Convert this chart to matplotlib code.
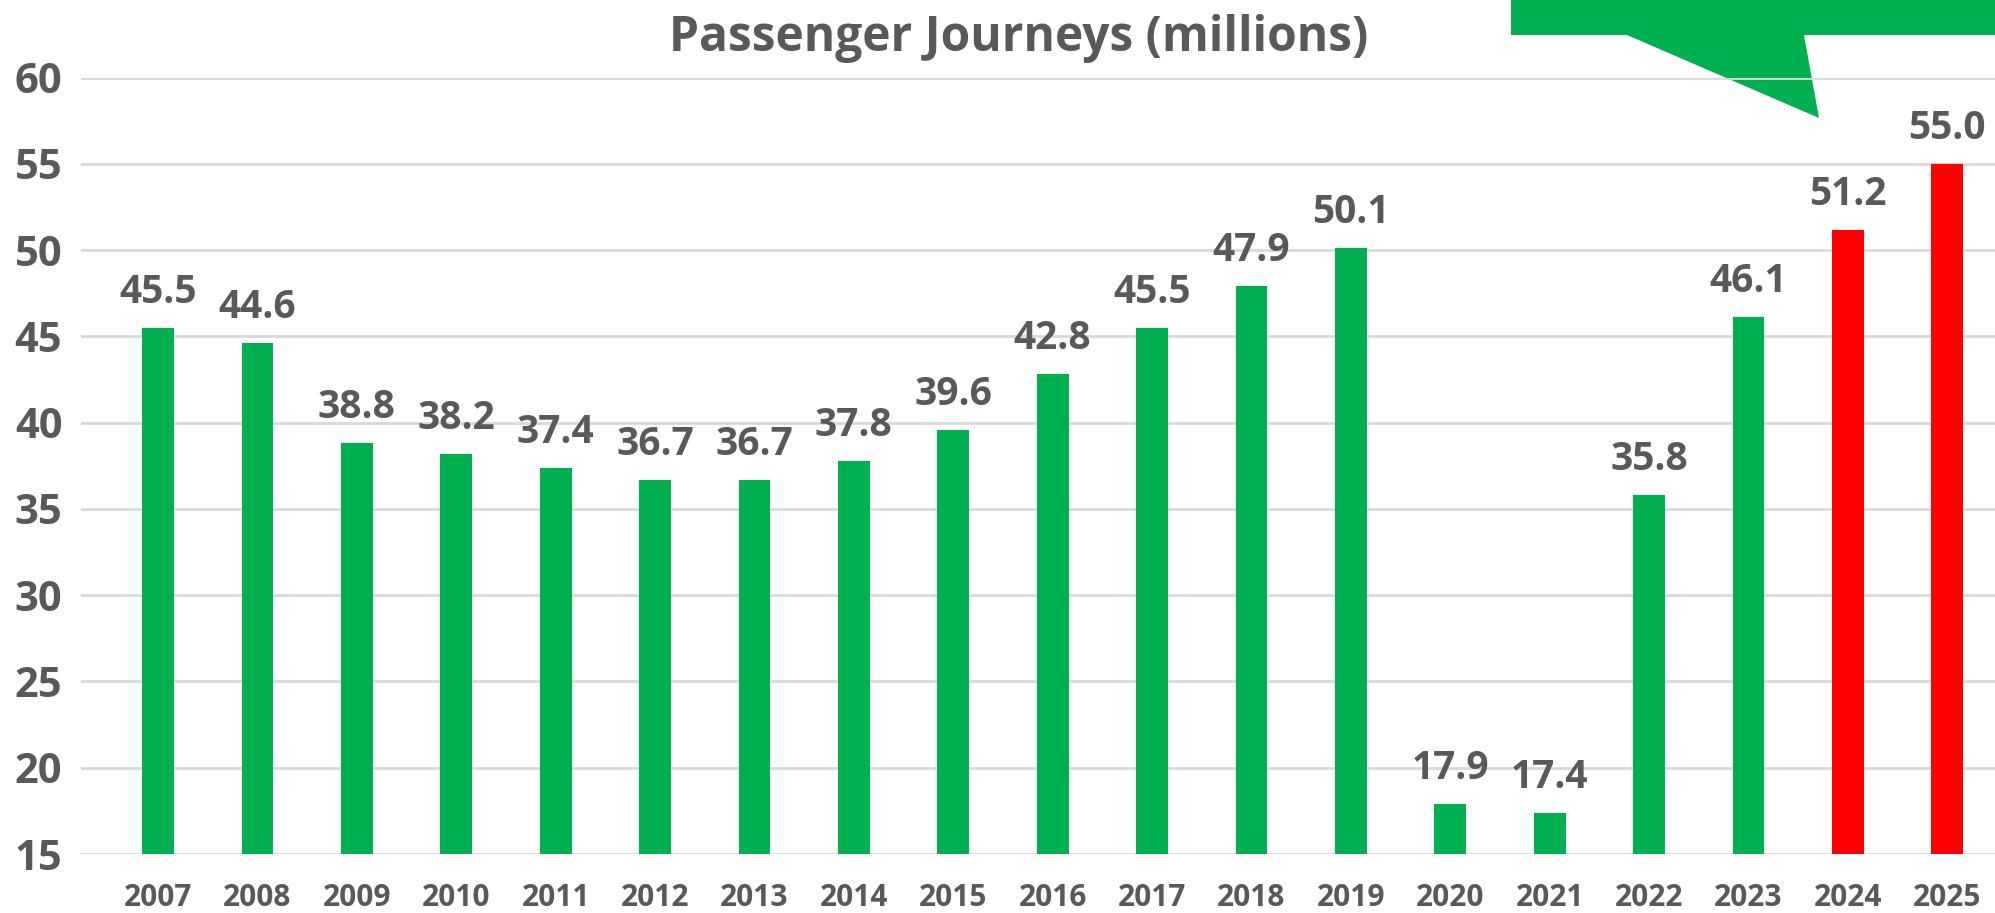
import matplotlib
matplotlib.use("Agg")
import matplotlib.pyplot as plt
from matplotlib.patches import Polygon

years = ["2007", "2008", "2009", "2010", "2011", "2012", "2013", "2014", "2015", "2016",
         "2017", "2018", "2019", "2020", "2021", "2022", "2023", "2024", "2025"]
journeys = [45.5, 44.6, 38.8, 38.2, 37.4, 36.7, 36.7, 37.8, 39.6, 42.8,
            45.5, 47.9, 50.1, 17.9, 17.4, 35.8, 46.1, 51.2, 55.0]
forecast = [False] * 17 + [True, True]
y_ticks = [15, 20, 25, 30, 35, 40, 45, 50, 55, 60]
title = "Passenger Journeys (millions)"

GREEN = "#00B050"
RED = "#FF0000"
GREY = "#595959"
FONT = ["Open Sans", "DejaVu Sans"]

W, H = 1995, 913
fig = plt.figure(figsize=(W / 100, H / 100), dpi=100)
left_px, right_px, top_px, bot_px = 81, 1995, 77.7, 854
ax = fig.add_axes([left_px / W, 1 - bot_px / H, (right_px - left_px) / W, (bot_px - top_px) / H])

x = list(range(len(years)))
colors = [RED if f else GREEN for f in forecast]
ax.bar(x, [v - 15 for v in journeys], bottom=15, width=0.32, color=colors, zorder=2)

for xi, v in zip(x, journeys):
    ax.annotate(f"{v:.1f}", (xi, v), xytext=(0, 18), textcoords="offset points",
                ha="center", va="baseline", fontsize=28, fontweight="bold",
                color=GREY, family=FONT)

ax.set_ylim(15, 60)
ax.set_xlim(-0.775, 18.48)
ax.set_yticks(y_ticks)
ax.set_xticks(x)
ax.set_xticklabels(years)
ax.tick_params(axis="y", length=0, pad=13.5, labelsize=30, labelcolor=GREY)
ax.tick_params(axis="x", length=0, pad=21, labelsize=21.5, labelcolor=GREY)
for lab in ax.get_yticklabels() + ax.get_xticklabels():
    lab.set_fontweight("bold")
    lab.set_family(FONT)
ax.grid(axis="y", color="#D9D9D9", linewidth=2, zorder=0.5)
ax.set_axisbelow(True)
for s in ax.spines.values():
    s.set_visible(False)

# callout shape in top-right corner
pts_px = [(1511, -10), (1995, -10), (1995, 35), (1804, 35), (1819, 118), (1627, 35), (1511, 35)]
pts = [(px / W, 1 - py / H) for px, py in pts_px]
callout = Polygon(pts, closed=True, facecolor=GREEN, edgecolor="none",
                  transform=fig.transFigure, clip_on=False, zorder=0.2)
ax.add_patch(callout)

fig.text(1018.5 / W, 1 - 51 / H, title, ha="center", va="baseline", fontsize=34.5,
         fontweight="bold", color=GREY, family=FONT)

fig.savefig("out.png", dpi=100)
